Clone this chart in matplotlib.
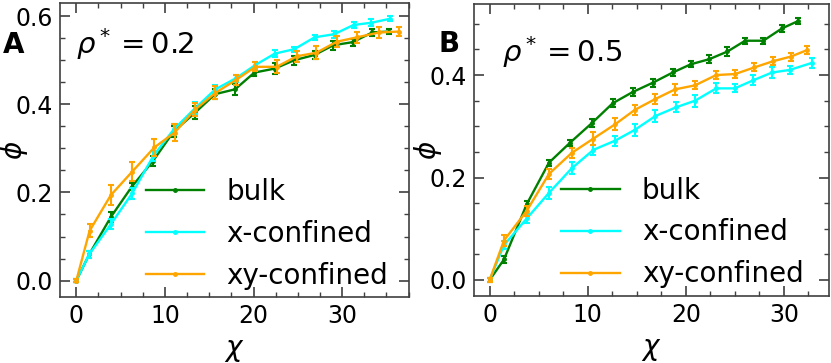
import matplotlib
matplotlib.use("Agg")
import matplotlib.pyplot as plt
from matplotlib.ticker import MultipleLocator

# panel A, rho* = 0.2
a_bulk_x = [0, 1.47, 3.89, 6.26, 8.64, 10.98, 13.4, 15.66, 17.92, 20.1, 22.4, 24.6, 26.9, 29.0, 31.2, 33.4, 35.3]
a_bulk_y = [0, 0.060, 0.144, 0.213, 0.271, 0.338, 0.381, 0.423, 0.434, 0.472, 0.481, 0.500, 0.512, 0.534, 0.541, 0.563, 0.565]
a_bulk_e = [0.004, 0.008, 0.012, 0.008, 0.012, 0.012, 0.015, 0.012, 0.012, 0.008, 0.012, 0.010, 0.010, 0.010, 0.008, 0.008, 0.006]

a_x_x = [0, 1.47, 3.9, 6.3, 8.7, 11.0, 13.4, 15.7, 18.0, 20.2, 22.4, 24.6, 26.9, 29.1, 31.3, 33.3, 35.4]
a_x_y = [0, 0.060, 0.128, 0.198, 0.283, 0.343, 0.391, 0.434, 0.459, 0.489, 0.515, 0.525, 0.552, 0.559, 0.580, 0.585, 0.594]
a_x_e = [0.004, 0.008, 0.012, 0.012, 0.012, 0.012, 0.014, 0.010, 0.008, 0.008, 0.008, 0.006, 0.006, 0.008, 0.006, 0.008, 0.006]

a_xy_x = [0, 1.5, 3.9, 6.3, 8.8, 11.1, 13.4, 15.7, 18.0, 20.2, 22.6, 24.9, 27.1, 29.4, 31.7, 34.2, 36.4]
a_xy_y = [0, 0.113, 0.194, 0.247, 0.302, 0.336, 0.388, 0.426, 0.455, 0.485, 0.485, 0.509, 0.517, 0.542, 0.552, 0.563, 0.565]
a_xy_e = [0.004, 0.015, 0.022, 0.022, 0.020, 0.020, 0.015, 0.015, 0.012, 0.010, 0.015, 0.012, 0.015, 0.012, 0.012, 0.012, 0.010]

# panel B, rho* = 0.5
b_bulk_x = [0, 1.46, 3.78, 6.05, 8.2, 10.41, 12.55, 14.6, 16.63, 18.67, 20.5, 22.4, 24.25, 26.05, 27.9, 29.8, 31.4]
b_bulk_y = [0, 0.040, 0.148, 0.229, 0.268, 0.306, 0.345, 0.367, 0.385, 0.405, 0.421, 0.431, 0.446, 0.467, 0.467, 0.491, 0.505]
b_bulk_e = [0.004, 0.006, 0.006, 0.006, 0.006, 0.008, 0.008, 0.008, 0.008, 0.006, 0.006, 0.008, 0.008, 0.006, 0.006, 0.006, 0.006]

b_x_x = [0, 1.46, 3.78, 6.05, 8.37, 10.58, 12.8, 14.8, 16.9, 19.0, 20.95, 23.1, 25.0, 26.9, 28.8, 30.6, 32.9]
b_x_y = [0, 0.068, 0.120, 0.170, 0.218, 0.254, 0.272, 0.293, 0.320, 0.337, 0.350, 0.374, 0.374, 0.390, 0.405, 0.410, 0.424]
b_x_e = [0.004, 0.008, 0.008, 0.012, 0.012, 0.010, 0.010, 0.012, 0.012, 0.010, 0.012, 0.010, 0.008, 0.010, 0.010, 0.008, 0.010]

b_xy_x = [0, 1.46, 3.78, 6.05, 8.37, 10.58, 12.8, 14.8, 16.87, 18.9, 20.95, 23.1, 25.03, 27.0, 28.9, 30.7, 32.4]
b_xy_y = [0, 0.077, 0.135, 0.207, 0.248, 0.276, 0.304, 0.332, 0.353, 0.372, 0.380, 0.400, 0.402, 0.415, 0.427, 0.436, 0.449]
b_xy_e = [0.004, 0.010, 0.010, 0.010, 0.010, 0.012, 0.012, 0.010, 0.010, 0.010, 0.008, 0.008, 0.008, 0.008, 0.008, 0.008, 0.008]

labels = ["bulk", "x-confined", "xy-confined"]
colors = ["green", "cyan", "orange"]


def draw_panel(ax, series, rho, xlim, ylim, yticks, text_pos, ylab_x, leg_anchor):
    for (x, y, e), label, color in zip(series, labels, colors):
        ax.errorbar(x, y, yerr=e, fmt="none", ecolor=color, elinewidth=1.5,
                    capsize=2.5, capthick=1.5)
        ax.plot(x, y, ".-", color=color, lw=1.7, ms=5, label=label)
    ax.set_xlim(*xlim)
    ax.set_ylim(*ylim)
    ax.set_xticks([0, 10, 20, 30])
    ax.set_yticks(yticks)
    ax.xaxis.set_minor_locator(MultipleLocator(2.5))
    ax.yaxis.set_minor_locator(MultipleLocator(0.05))
    ax.tick_params(which="both", direction="in", top=True, right=True,
                   labelsize=17, color="0.25")
    ax.tick_params(which="major", length=7, width=1.2, pad=5)
    ax.tick_params(which="minor", length=3.5, width=1.0)
    for sp in ax.spines.values():
        sp.set_color("0.25")
        sp.set_linewidth(1.2)
    ax.set_xlabel(r"$\chi$", fontsize=20)
    ax.set_ylabel(r"$\phi$", fontsize=20)
    ax.xaxis.set_label_coords(0.5, -0.133)
    ax.yaxis.set_label_coords(ylab_x, 0.5)
    ax.text(text_pos[0], text_pos[1], r"$\rho^* = %s$" % rho,
            transform=ax.transAxes, fontsize=21, va="center")
    ax.legend(loc="lower right", bbox_to_anchor=leg_anchor, frameon=False,
              fontsize=20, handlelength=2.1, labelspacing=0.5, numpoints=1)


fig = plt.figure(figsize=(8.31, 3.63), dpi=100)
ax_a = fig.add_axes([0.0722, 0.182, 0.420, 0.810])
ax_b = fig.add_axes([0.570, 0.185, 0.427, 0.803])

draw_panel(ax_a, [(a_bulk_x, a_bulk_y, a_bulk_e), (a_x_x, a_x_y, a_x_e),
                  (a_xy_x, a_xy_y, a_xy_e)],
           "0.2", (-1.84, 37.55), (-0.037, 0.63), [0.0, 0.2, 0.4, 0.6],
           (0.046, 0.86), -0.085, (1.012, -0.06))
draw_panel(ax_b, [(b_bulk_x, b_bulk_y, b_bulk_e), (b_x_x, b_x_y, b_x_e),
                  (b_xy_x, b_xy_y, b_xy_e)],
           "0.5", (-1.63, 34.55), (-0.031, 0.538), [0.0, 0.2, 0.4],
           (0.08, 0.835), -0.085, (1.0, -0.06))

fig.text(0.004, 0.875, "A", fontsize=20, fontweight="bold", va="center")
fig.text(0.528, 0.88, "B", fontsize=20, fontweight="bold", va="center")

fig.savefig("out.png", dpi=100)
